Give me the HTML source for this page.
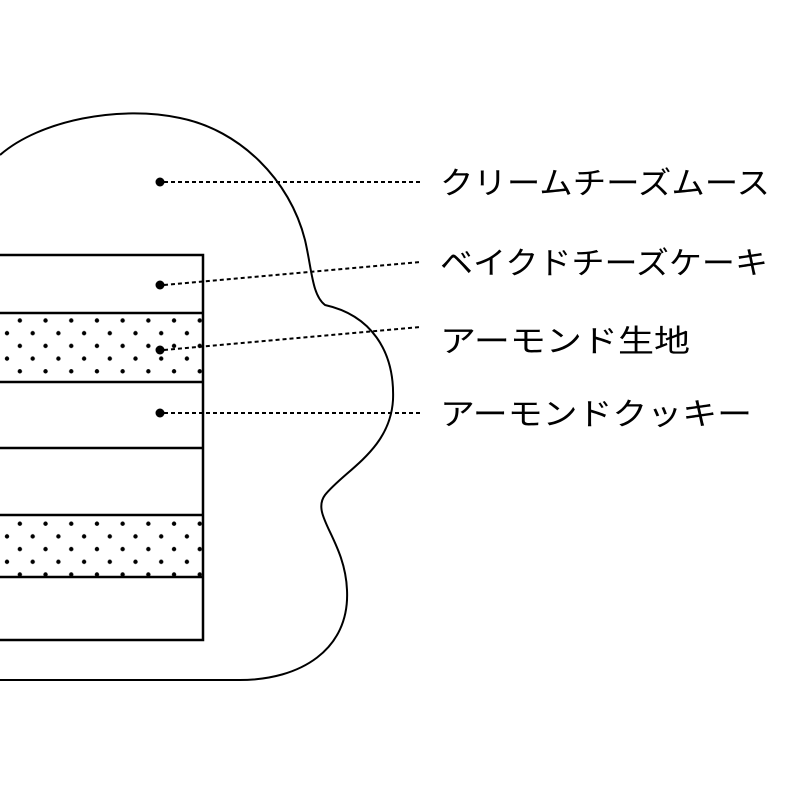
<!DOCTYPE html>
<html><head><style>html,body{margin:0;padding:0;background:#fff}svg{display:block}</style></head>
<body>
<svg width="800" height="800" viewBox="0 0 800 800" xmlns="http://www.w3.org/2000/svg">
<defs>
<pattern id="dots" x="7" y="3" width="25.7" height="25.4" patternUnits="userSpaceOnUse">
<circle cx="0" cy="0" r="2.2" fill="#000"/>
<circle cx="12.85" cy="12.7" r="2.2" fill="#000"/>
<circle cx="25.7" cy="0" r="2.2" fill="#000"/>
<circle cx="0" cy="25.4" r="2.2" fill="#000"/>
<circle cx="25.7" cy="25.4" r="2.2" fill="#000"/>
</pattern>
</defs>
<rect width="800" height="800" fill="#fff"/>
<rect x="0" y="313" width="203" height="69" fill="url(#dots)"/>
<rect x="0" y="515" width="203" height="62" fill="url(#dots)"/>
<path d="M0,155 C40,120 120,105 180,118 C240,130 290,180 305,240 C312,270 312,295 325,305 C370,315 395,350 393,400 C390,450 345,470 325,495 C310,515 345,540 347,590 C350,650 300,680 240,680 L0,680" fill="none" stroke="#000" stroke-width="2"/>
<g stroke="#000" stroke-width="2.5" fill="none">
<path d="M0,255 H203 V640 H0"/>
<path d="M0,313 H203 M0,382 H203 M0,448 H203 M0,515 H203 M0,577 H203"/>
</g>
<g fill="#000">
<circle cx="160" cy="182" r="4.5"/>
<circle cx="160" cy="285" r="4.5"/>
<circle cx="160" cy="350" r="4.5"/>
<circle cx="160" cy="413" r="4.5"/>
</g>
<g stroke="#000" stroke-width="2" stroke-dasharray="4,3" fill="none">
<path d="M164,182 H420"/>
<path d="M164,285 L420,262"/>
<path d="M164,350 L420,327"/>
<path d="M164,413 H420"/>
</g>
<g font-family="'Liberation Sans','Noto Sans CJK JP',sans-serif" font-size="31" fill="#000">
<text x="440" y="194" textLength="330" lengthAdjust="spacingAndGlyphs">クリームチーズムース</text>
<text x="440" y="274" textLength="328" lengthAdjust="spacingAndGlyphs">ベイクドチーズケーキ</text>
<text x="440" y="352" textLength="250" lengthAdjust="spacingAndGlyphs">アーモンド生地</text>
<text x="440" y="425" textLength="312" lengthAdjust="spacingAndGlyphs">アーモンドクッキー</text>
</g>
</svg>
</body></html>
